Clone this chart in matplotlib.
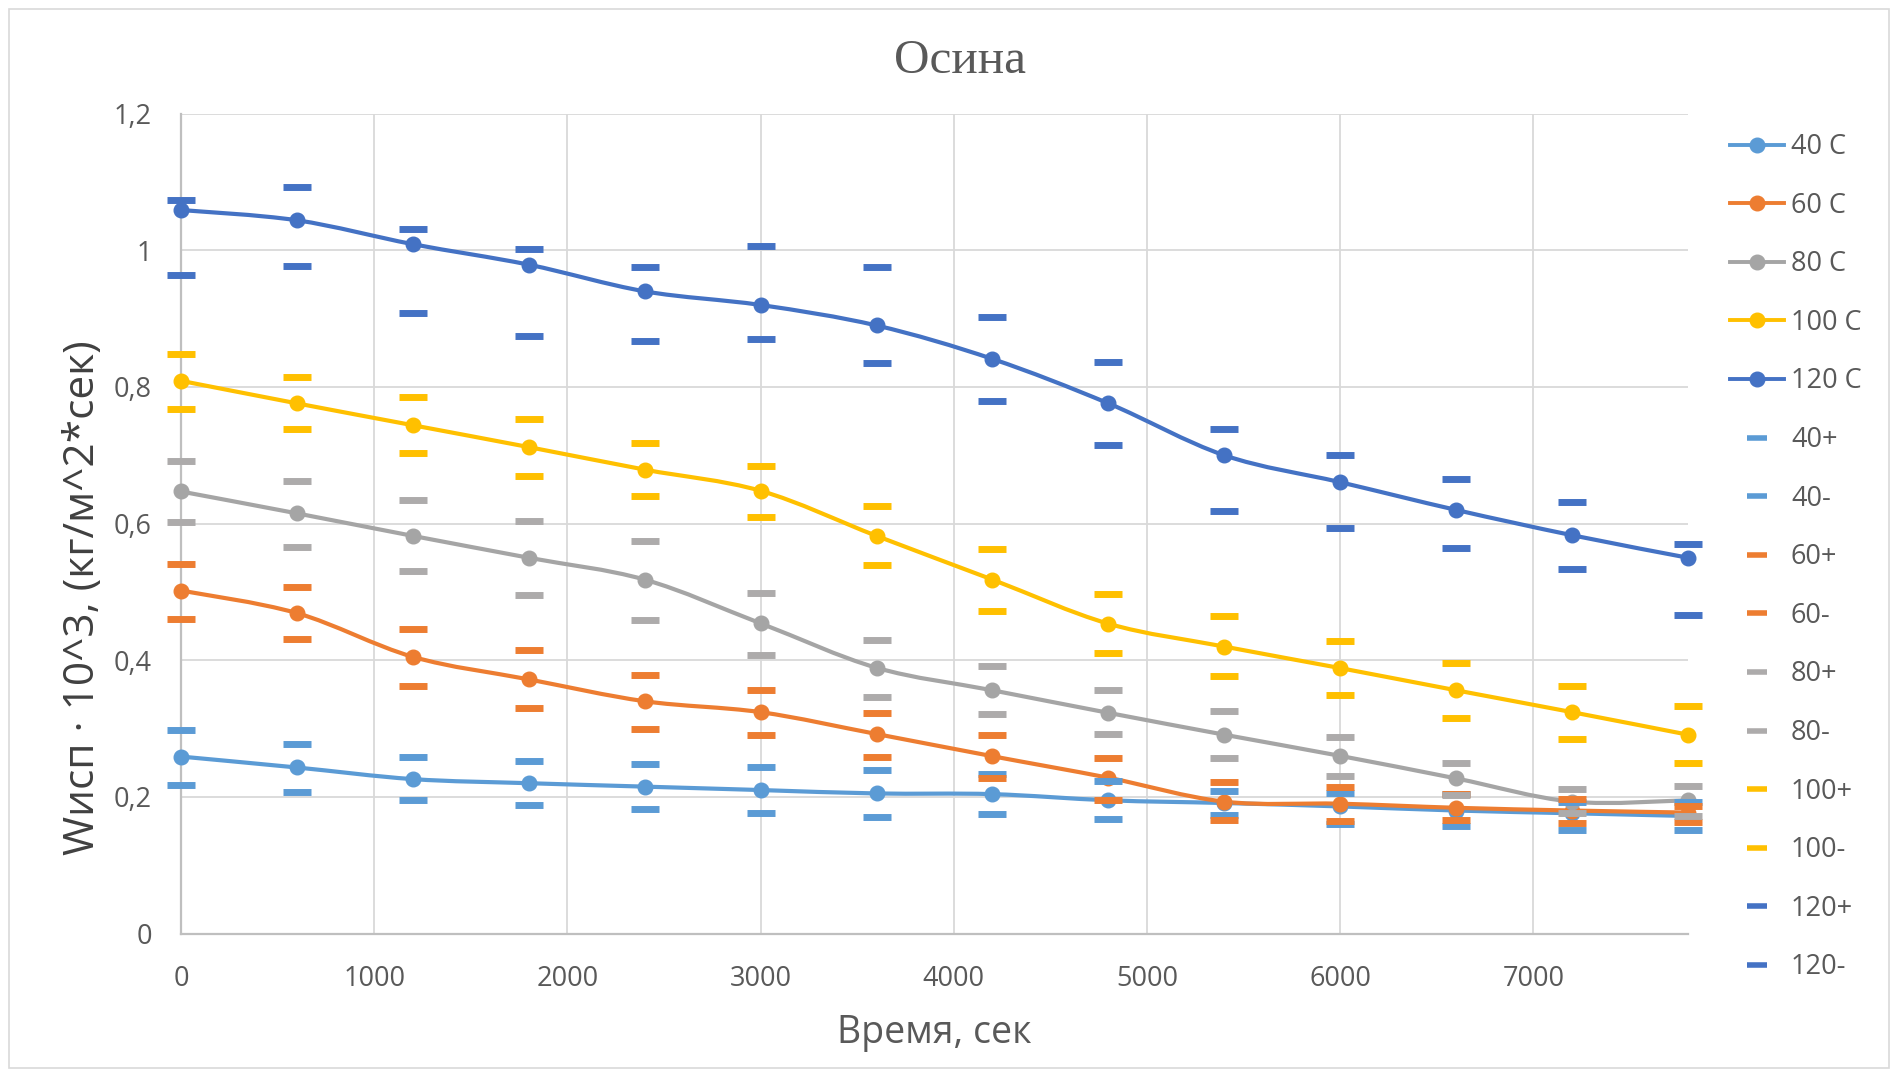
import matplotlib
matplotlib.use("Agg")
import matplotlib.pyplot as plt
import numpy as np
from matplotlib.path import Path
from matplotlib.patches import PathPatch, Rectangle
from matplotlib.lines import Line2D

# time points, s
t = [0, 600, 1200, 1800, 2400, 3000, 3600, 4200, 4800, 5400, 6000, 6600, 7200, 7800]

# mean evaporation rate for each temperature
w40 = [0.259, 0.243, 0.226, 0.220, 0.215, 0.210, 0.205, 0.204, 0.195, 0.191, 0.186, 0.180, 0.176, 0.172]
w60 = [0.502, 0.469, 0.405, 0.372, 0.340, 0.324, 0.292, 0.2595, 0.228, 0.193, 0.190, 0.184, 0.180, 0.177]
w80 = [0.647, 0.615, 0.582, 0.550, 0.518, 0.454, 0.389, 0.356, 0.323, 0.291, 0.260, 0.227, 0.193, 0.195]
w100 = [0.809, 0.776, 0.744, 0.712, 0.679, 0.648, 0.582, 0.518, 0.4535, 0.420, 0.3885, 0.356, 0.324, 0.291]
w120 = [1.059, 1.044, 1.009, 0.979, 0.940, 0.920, 0.890, 0.841, 0.776, 0.700, 0.6606, 0.620, 0.583, 0.550]

# upper / lower bounds
p40 = [0.298, 0.278, 0.258, 0.252, 0.248, 0.244, 0.240, 0.234, 0.223, 0.208, 0.205, 0.204, 0.193, 0.192]
m40 = [0.218, 0.207, 0.195, 0.188, 0.182, 0.176, 0.170, 0.175, 0.167, 0.173, 0.160, 0.158, 0.152, 0.151]
p60 = [0.541, 0.507, 0.446, 0.415, 0.379, 0.357, 0.323, 0.290, 0.257, 0.222, 0.214, 0.204, 0.1975, 0.187]
m60 = [0.461, 0.431, 0.363, 0.330, 0.300, 0.291, 0.2585, 0.228, 0.196, 0.166, 0.165, 0.166, 0.162, 0.163]
p80 = [0.692, 0.662, 0.635, 0.604, 0.575, 0.498, 0.430, 0.391, 0.356, 0.325, 0.287, 0.250, 0.212, 0.216]
m80 = [0.602, 0.566, 0.530, 0.496, 0.459, 0.408, 0.346, 0.321, 0.292, 0.257, 0.231, 0.203, 0.176, 0.172]
p100 = [0.848, 0.814, 0.785, 0.753, 0.718, 0.685, 0.626, 0.563, 0.497, 0.465, 0.428, 0.396, 0.363, 0.3325]
m100 = [0.768, 0.738, 0.703, 0.669, 0.640, 0.609, 0.539, 0.4725, 0.410, 0.377, 0.349, 0.316, 0.285, 0.250]
p120 = [1.073, 1.093, 1.031, 1.002, 0.976, 1.006, 0.976, 0.903, 0.837, 0.739, 0.701, 0.666, 0.631, 0.570]
m120 = [0.9635, 0.977, 0.909, 0.874, 0.867, 0.870, 0.835, 0.779, 0.715, 0.619, 0.593, 0.564, 0.533, 0.466]

names = ["40 C", "60 C", "80 C", "100 C", "120 C"]
bound_names = ["40+", "40-", "60+", "60-", "80+", "80-", "100+", "100-", "120+", "120-"]
colors = ["#5B9BD5", "#ED7D31", "#A5A5A5", "#FFC000", "#4472C4"]
bar_colors = ["#5B9BD5", "#ED7D31", "#ADABAB", "#FFC000", "#4472C4"]

means = [w40, w60, w80, w100, w120]
bounds = [p40, m40, p60, m60, p80, m80, p100, m100, p120, m120]

TXT = "#595959"


def smooth_path(x, y):
    # cubic bezier through the points (catmull-rom style tangents)
    pts = np.column_stack([x, y]).astype(float)
    n = len(pts)
    verts = [pts[0]]
    codes = [Path.MOVETO]
    for i in range(n - 1):
        p0 = pts[i - 1] if i > 0 else pts[i]
        p1 = pts[i]
        p2 = pts[i + 1]
        p3 = pts[i + 2] if i + 2 < n else pts[i + 1]
        c1 = p1 + (p2 - p0) / 6.0
        c2 = p2 - (p3 - p1) / 6.0
        verts += [c1, c2, p2]
        codes += [Path.CURVE4] * 3
    return Path(verts, codes)


fig = plt.figure(figsize=(18.96, 10.71), dpi=100)
fig.patches.append(Rectangle((9 / 1896, 3 / 1071), 1880 / 1896, 1059 / 1071,
                             transform=fig.transFigure, fill=False,
                             ec="#D9D9D9", lw=1.2))

ax = fig.add_axes([0.09546, 0.12838, 0.79484, 0.76546])
ax.set_xlim(0, 7800)
ax.set_ylim(0, 1.2)

for y, c in zip(means, colors):
    ax.add_patch(PathPatch(smooth_path(t, y), fc="none", ec=c, lw=3,
                           zorder=3, clip_on=False))
    ax.plot(t, y, "o", color=c, ms=10.5, zorder=4, clip_on=False)

for i, y in enumerate(bounds):
    ax.plot(t, y, "_", color=bar_colors[i // 2], ms=20, mew=5, zorder=5,
            clip_on=False)

ax.set_xticks(range(0, 8000, 1000))
ax.set_yticks([0, 0.2, 0.4, 0.6, 0.8, 1.0, 1.2])
ax.set_yticklabels(["0", "0,2", "0,4", "0,6", "0,8", "1", "1,2"])
ax.tick_params(length=0, labelsize=19.5, labelcolor=TXT)
ax.tick_params(axis="y", pad=21)
ax.tick_params(axis="x", pad=22.5)
for lab in ax.get_xticklabels() + ax.get_yticklabels():
    lab.set_family("Open Sans")

ax.grid(color="#D9D9D9", lw=1.3)
ax.set_axisbelow(True)
for s in ["top", "right"]:
    ax.spines[s].set_visible(False)
for s in ["left", "bottom"]:
    ax.spines[s].set_color("#BFBFBF")
    ax.spines[s].set_linewidth(1.6)

fig.text(960 / 1896, 1 - 73 / 1071, "Осина", family="Liberation Serif",
         fontsize=35.5, color=TXT, ha="center", va="baseline")
fig.text(934 / 1896, 1 - 1043 / 1071, "Время, сек", family="Open Sans",
         fontsize=27, color=TXT, ha="center", va="baseline")
fig.text(94 / 1896, 1 - 598 / 1071, "Wисп · 10^3, (кг/м^2*сек)",
         family="Open Sans", fontsize=30.5, color="#404040",
         rotation=90, rotation_mode="anchor", ha="center", va="baseline")

handles = []
for c in colors:
    handles.append(Line2D([], [], color=c, lw=2.8, marker="o", ms=10.5))
for i in range(10):
    handles.append(Line2D([], [], color=bar_colors[i // 2], lw=0,
                          marker="_", ms=14, mew=4))
leg = fig.legend(handles, names + bound_names, loc="upper left",
                 bbox_to_anchor=(1730 / 1896, 1 - 133 / 1071),
                 frameon=False, handlelength=2.0,
                 handletextpad=0.25, labelspacing=1.13, borderpad=0,
                 borderaxespad=0, prop={"family": "Open Sans", "size": 19.5})
for txt in leg.get_texts():
    txt.set_color(TXT)

fig.savefig("out.png", dpi=100)
